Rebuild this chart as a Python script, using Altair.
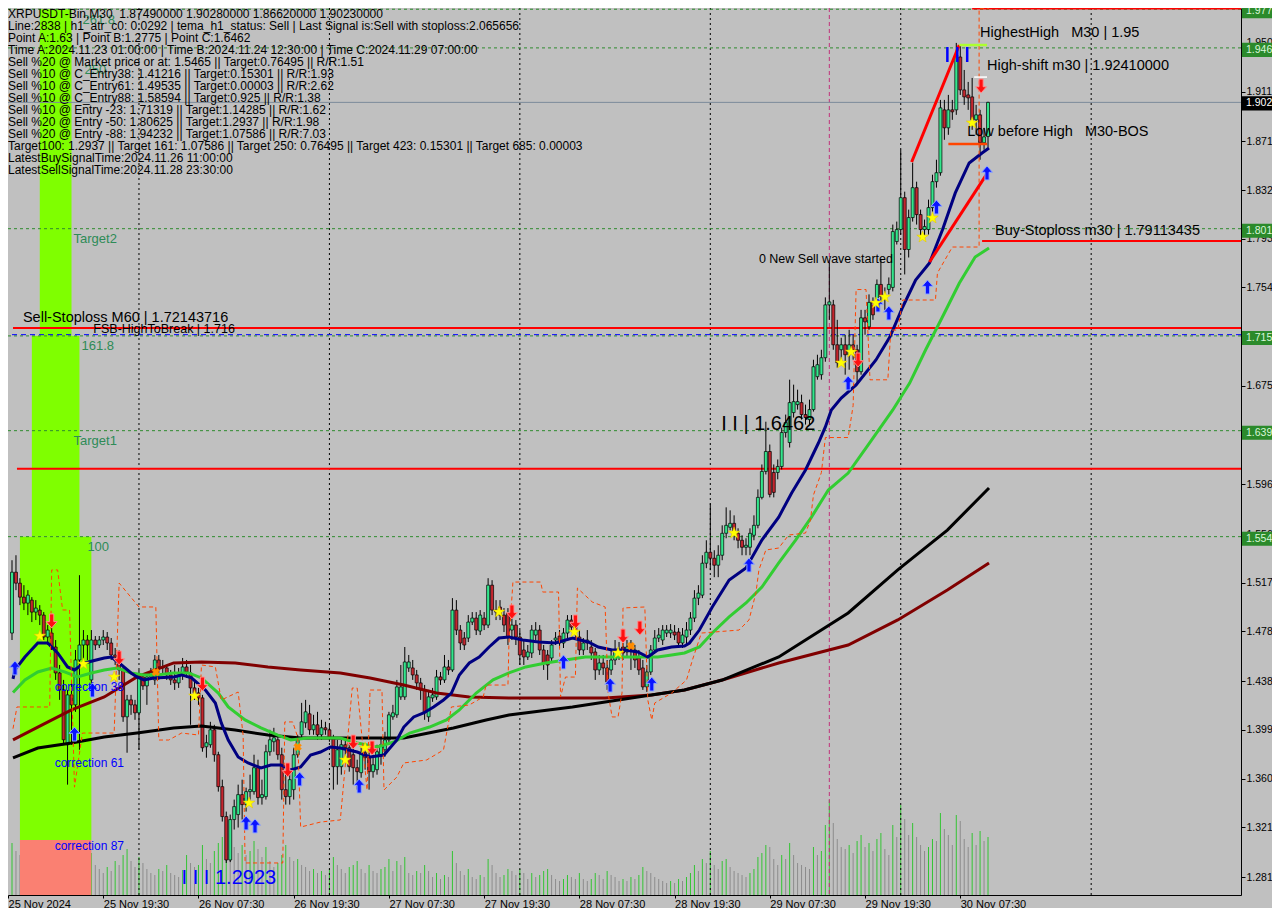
import altair as alt
import pandas as pd

FONT = "Liberation Sans"
W, H = 1233, 887

# ---------------- candles (30-minute bars, first bar 25 Nov 07:30) ----------------
OPEN = [
    1.4631, 1.4767, 1.5255, 1.5167, 1.5055, 1.5007, 1.5031, 1.4935, 1.4951, 1.4911, 1.4735, 1.4767, 1.4655, 1.4447,
    1.4311, 1.3871, 1.4271, 1.4191, 1.4551, 1.4671, 1.4711, 1.4391, 1.4711, 1.4671, 1.4711, 1.4735, 1.4687, 1.4591,
    1.4575, 1.4471, 1.4095, 1.4231, 1.4191, 1.4127, 1.4415, 1.4343, 1.4415, 1.4391, 1.4551, 1.4495, 1.4487, 1.4431,
    1.4391, 1.4367, 1.4431, 1.4495, 1.4447, 1.4327, 1.4287, 1.4247, 1.3855, 1.3871, 1.3991, 1.3791, 1.3535, 1.3295,
    1.2947, 1.3271, 1.3311, 1.3471, 1.3391, 1.3495, 1.3495, 1.3687, 1.3447, 1.3455, 1.3815, 1.3895, 1.3911, 1.3791,
    1.3511, 1.3455, 1.3511, 1.3791, 1.3951, 1.4047, 1.4119, 1.3991, 1.4031, 1.3951, 1.4007, 1.3991, 1.3927, 1.3695,
    1.3695, 1.3871, 1.3847, 1.3791, 1.3687, 1.3647, 1.3807, 1.3767, 1.3655, 1.3671, 1.3791, 1.3831, 1.3911, 1.4095,
    1.4111, 1.4255, 1.4255, 1.4487, 1.4487, 1.4431, 1.4367, 1.4311, 1.4095, 1.4247, 1.4255, 1.4415, 1.4391, 1.4495,
    1.4471, 1.4951, 1.4791, 1.4727, 1.4727, 1.4855, 1.4887, 1.4783, 1.4887, 1.4831, 1.5151, 1.4951, 1.4975, 1.4911,
    1.4927,
    1.4791, 1.4831, 1.4735, 1.4631, 1.4575, 1.4607, 1.4751, 1.4791, 1.4631, 1.4591, 1.4567, 1.4711, 1.4743, 1.4687,
    1.4767, 1.4871, 1.4815, 1.4735, 1.4631, 1.4687, 1.4655, 1.4615, 1.4471, 1.4527, 1.4487, 1.4471, 1.4551, 1.4631,
    1.4655, 1.4615, 1.4647, 1.4631, 1.4567, 1.4487, 1.4335, 1.4455, 1.4631, 1.4727, 1.4711, 1.4767, 1.4767, 1.4775,
    1.4775, 1.4687,
    1.4735, 1.4791, 1.4887, 1.5047, 1.5071, 1.5327, 1.5415, 1.5367, 1.5311, 1.5391, 1.5567, 1.5615, 1.5647, 1.5567,
    1.5511, 1.5455, 1.5455, 1.5551, 1.5631, 1.5855, 1.6063, 1.6223, 1.6055, 1.6055, 1.6103, 1.6375, 1.6295, 1.6535,
    1.6599, 1.6615, 1.6519, 1.6479, 1.6559, 1.6823, 1.6839, 1.6975, 1.7399, 1.7399, 1.7079, 1.7039, 1.7079,
    1.6999, 1.7079, 1.7039, 1.6863, 1.7295, 1.7223, 1.7419, 1.7419, 1.7563, 1.7467, 1.7523, 1.7539, 1.7907, 1.8003,
    1.8259, 1.7843, 1.8099, 1.8339, 1.8123, 1.8003, 1.8003, 1.8179, 1.8387, 1.8459, 1.8963, 1.8819, 1.8963, 1.8963,
    1.9387, 1.9123, 1.9083, 1.9067, 1.8883, 1.8923, 1.8699, 1.8749,
]
HIGH = [
    1.5031, 1.5351, 1.5391, 1.5207, 1.5151, 1.5111, 1.5055, 1.5031, 1.4991, 1.4935, 1.4831, 1.4807, 1.4711, 1.4511,
    1.4391, 1.4311, 1.4391, 1.4631, 1.5231, 1.4791, 1.4751, 1.4791, 1.4743, 1.4743, 1.4791, 1.4775, 1.4727, 1.4647,
    1.4631, 1.4511, 1.4271, 1.4271, 1.4231, 1.4471, 1.4431, 1.4455, 1.4487, 1.4591, 1.4591, 1.4551, 1.4511, 1.4471,
    1.4511, 1.4487, 1.4567, 1.4551, 1.4511, 1.4391, 1.4327, 1.4271, 1.3951, 1.4055, 1.4031, 1.3815, 1.3591, 1.3335,
    1.3311, 1.3431, 1.3551, 1.3591, 1.3527, 1.3631, 1.3791, 1.3751, 1.3591, 1.3871, 1.3991, 1.4007, 1.3951, 1.3847,
    1.3687, 1.3671, 1.3847, 1.3951, 1.4207, 1.4231, 1.4191, 1.4111, 1.4135, 1.4071, 1.4055, 1.4031, 1.3951, 1.3911,
    1.3911, 1.3927, 1.3895, 1.3871, 1.3751, 1.3847, 1.3871, 1.3831, 1.3791, 1.3871, 1.3927, 1.3975, 1.4135, 1.4191,
    1.4391, 1.4511, 1.4655, 1.4591, 1.4551, 1.4471, 1.4407, 1.4351, 1.4311, 1.4327, 1.4471, 1.4455, 1.4591, 1.4551,
    1.5047, 1.5031, 1.4831, 1.4775, 1.4911, 1.4935, 1.4935, 1.4951, 1.4935, 1.5207, 1.5191, 1.5031, 1.5031, 1.4967,
    1.4967,
    1.4911, 1.4871, 1.4791, 1.4711, 1.4671, 1.4831, 1.4855, 1.4831, 1.4671, 1.4631, 1.4711, 1.4775, 1.4791, 1.4807,
    1.4911, 1.4911, 1.4871, 1.4791, 1.4727, 1.4791, 1.4711, 1.4647, 1.4591, 1.4591, 1.4551, 1.4631, 1.4711, 1.4695,
    1.4711, 1.4711, 1.4711, 1.4671, 1.4631, 1.4551, 1.4511, 1.4671, 1.4791, 1.4807, 1.4831, 1.4831, 1.4839, 1.4831,
    1.4807, 1.4807,
    1.4855, 1.4935, 1.5111, 1.5151, 1.5391, 1.5511, 1.5807, 1.5431, 1.5471, 1.5631, 1.5775, 1.5751, 1.5711, 1.5607,
    1.5551, 1.5527, 1.5607, 1.5711, 1.5919, 1.6119, 1.6462, 1.6279, 1.6119, 1.6159, 1.6415, 1.6519, 1.6799, 1.6759,
    1.6719, 1.6679, 1.6599, 1.6639, 1.6959, 1.6999, 1.7039, 1.7459, 1.7739, 1.7439, 1.7279, 1.7135, 1.7159,
    1.7199, 1.7159, 1.7079, 1.7359, 1.7359, 1.7483, 1.7459, 1.7603, 1.7763, 1.7539, 1.7619, 1.8043, 1.8067, 1.8643,
    1.8307, 1.8163, 1.8539, 1.8387, 1.8163, 1.8083, 1.8243, 1.8443, 1.8563, 1.9043, 1.9043, 1.9083, 1.9043, 1.9500,
    1.9483, 1.9283, 1.9187, 1.9219, 1.9003, 1.8963, 1.8819, 1.9028,
]
LOW = [
    1.4591, 1.4711, 1.5111, 1.4991, 1.4951, 1.4911, 1.4855, 1.4871, 1.4831, 1.4711, 1.4671, 1.4631, 1.4391, 1.4231,
    1.3871, 1.3551, 1.3871, 1.4135, 1.3831, 1.4511, 1.4551, 1.4351, 1.4631, 1.4647, 1.4671, 1.4631, 1.4551, 1.4511,
    1.4391, 1.4055, 1.3807, 1.4111, 1.4071, 1.3831, 1.4311, 1.4191, 1.4391, 1.4351, 1.4391, 1.4431, 1.4391, 1.4351,
    1.4311, 1.4327, 1.4391, 1.4407, 1.4031, 1.4231, 1.4191, 1.3815, 1.3767, 1.3847, 1.3735, 1.3495, 1.3255, 1.2923,
    1.2930, 1.3191, 1.3207, 1.3271, 1.3335, 1.3431, 1.3471, 1.3391, 1.3391, 1.3431, 1.3783, 1.3815, 1.3751, 1.3431,
    1.3391, 1.3391, 1.3431, 1.3767, 1.3927, 1.4007, 1.3951, 1.3951, 1.3911, 1.3911, 1.3951, 1.3895, 1.3511, 1.3551,
    1.3631, 1.3751, 1.3655, 1.3551, 1.3511, 1.3607, 1.3671, 1.3511, 1.3607, 1.3631, 1.3711, 1.3775, 1.3871, 1.4071,
    1.4087, 1.4231, 1.4231, 1.4455, 1.4391, 1.4311, 1.4231, 1.4071, 1.4055, 1.4215, 1.4231, 1.4351, 1.4367, 1.4431,
    1.4455, 1.4751, 1.4631, 1.4631, 1.4695, 1.4831, 1.4751, 1.4751, 1.4791, 1.4807, 1.4911, 1.4871, 1.4871, 1.4775,
    1.4671,
    1.4711, 1.4671, 1.4511, 1.4511, 1.4551, 1.4567, 1.4711, 1.4591, 1.4471, 1.4391, 1.4535, 1.4671, 1.4647, 1.4647,
    1.4727, 1.4775, 1.4711, 1.4591, 1.4591, 1.4631, 1.4551, 1.4391, 1.4431, 1.4431, 1.4311, 1.4431, 1.4511, 1.4551,
    1.4551, 1.4567, 1.4471, 1.4487, 1.4431, 1.4311, 1.4295, 1.4431, 1.4615, 1.4695, 1.4671, 1.4735, 1.4727, 1.4711,
    1.4647, 1.4647,
    1.4671, 1.4751, 1.4855, 1.4991, 1.5047, 1.5287, 1.5271, 1.5215, 1.5215, 1.5351, 1.5527, 1.5591, 1.5511, 1.5447,
    1.5391, 1.5391, 1.5391, 1.5511, 1.5607, 1.5839, 1.6039, 1.5855, 1.5855, 1.6000, 1.6079, 1.6335, 1.6255, 1.6495,
    1.6559, 1.6479, 1.6439, 1.6439, 1.6543, 1.6799, 1.6799, 1.6943, 1.7279, 1.7039, 1.6895, 1.6919, 1.6839,
    1.6879, 1.6959, 1.6759, 1.6839, 1.7159, 1.7199, 1.7279, 1.7359, 1.7427, 1.7359, 1.7483, 1.7507, 1.7883, 1.7963,
    1.7643, 1.7779, 1.8067, 1.8043, 1.7923, 1.7923, 1.7963, 1.8147, 1.8339, 1.8435, 1.8723, 1.8763, 1.8883, 1.8923,
    1.9083, 1.9003, 1.8963, 1.8803, 1.8763, 1.8563, 1.8643, 1.8662,
]
CLOSE = [
    1.4767, 1.5255, 1.5167, 1.5055, 1.5007, 1.5071, 1.4935, 1.4967, 1.4911, 1.4735, 1.4791, 1.4655, 1.4447, 1.4311,
    1.3911, 1.4271, 1.4191, 1.4551, 1.4671, 1.4711, 1.4671, 1.4711, 1.4671, 1.4711, 1.4735, 1.4687, 1.4591, 1.4575,
    1.4471, 1.4095, 1.4231, 1.4191, 1.4127, 1.4415, 1.4343, 1.4415, 1.4455, 1.4551, 1.4495, 1.4487, 1.4431, 1.4391,
    1.4367, 1.4431, 1.4495, 1.4455, 1.4327, 1.4287, 1.4247, 1.3847, 1.3887, 1.3991, 1.3791, 1.3535, 1.3295, 1.2947,
    1.3271, 1.3375, 1.3471, 1.3391, 1.3495, 1.3511, 1.3687, 1.3447, 1.3471, 1.3815, 1.3911, 1.3927, 1.3791, 1.3511,
    1.3455, 1.3591, 1.3791, 1.3911, 1.4055, 1.4135, 1.3991, 1.4031, 1.3951, 1.4007, 1.3991, 1.3927, 1.3695, 1.3831,
    1.3871, 1.3847, 1.3695, 1.3687, 1.3655, 1.3807, 1.3767, 1.3655, 1.3711, 1.3815, 1.3871, 1.3911, 1.4111, 1.4127,
    1.4335, 1.4335, 1.4535, 1.4535, 1.4431, 1.4367, 1.4311, 1.4127, 1.4255, 1.4271, 1.4415, 1.4391, 1.4495, 1.4471,
    1.4951, 1.4791, 1.4687, 1.4671, 1.4855, 1.4887, 1.4791, 1.4911, 1.4831, 1.5151, 1.4951, 1.4935, 1.4911, 1.4831,
    1.4735,
    1.4831, 1.4735, 1.4591, 1.4575, 1.4615, 1.4791, 1.4791, 1.4631, 1.4527, 1.4511, 1.4671, 1.4727, 1.4687, 1.4767,
    1.4871, 1.4815, 1.4775, 1.4631, 1.4687, 1.4711, 1.4607, 1.4471, 1.4527, 1.4487, 1.4375, 1.4551, 1.4631, 1.4615,
    1.4607, 1.4655, 1.4631, 1.4551, 1.4471, 1.4335, 1.4455, 1.4631, 1.4727, 1.4751, 1.4791, 1.4791, 1.4791, 1.4751,
    1.4687, 1.4751,
    1.4791, 1.4887, 1.5047, 1.5087, 1.5327, 1.5415, 1.5367, 1.5311, 1.5391, 1.5567, 1.5631, 1.5647, 1.5567, 1.5511,
    1.5455, 1.5471, 1.5567, 1.5631, 1.5855, 1.6063, 1.6223, 1.5879, 1.5895, 1.6103, 1.6375, 1.6455, 1.6615, 1.6623,
    1.6623, 1.6519, 1.6495, 1.6559, 1.6903, 1.6919, 1.6975, 1.7399, 1.7423, 1.7079, 1.6935, 1.7079, 1.6999,
    1.7079, 1.7039, 1.6863, 1.7295, 1.7263, 1.7419, 1.7319, 1.7563, 1.7467, 1.7443, 1.7563, 1.7987, 1.8003, 1.8259,
    1.7843, 1.8099, 1.8339, 1.8123, 1.8003, 1.8027, 1.8179, 1.8387, 1.8459, 1.8979, 1.8819, 1.8963, 1.8947, 1.9403,
    1.9123, 1.9067, 1.9059, 1.8883, 1.8923, 1.8699, 1.8747, 1.9023,
]
VOLUME = [
    48, 52, 44, 40, 36, 30, 34, 38, 42, 50, 46, 55, 60, 52, 66, 58, 50, 48, 105, 45, 38, 42,
    30, 26, 22, 28, 24, 34, 30, 40, 46, 34, 28, 38, 32, 26, 22, 20, 26, 24, 30, 22, 20, 18, 25, 40, 32, 28, 30, 50,
    36, 32, 44, 52, 58, 70, 62, 48, 42, 50, 40, 44, 54, 46, 38, 48, 34, 28, 32, 40, 50, 38, 34, 36, 30, 28, 24, 26,
    22, 24, 20, 26, 38, 30,
    26, 22, 28, 30, 34, 26, 22, 30, 24, 22, 26, 28, 36, 24, 34, 30, 38, 22, 20, 24, 22, 30, 24, 18, 22, 16, 20, 18,
    44, 32, 24, 20, 26, 18, 16, 20, 18, 36, 30, 22, 18, 20, 26,
    24, 20, 26, 22, 16, 22, 18, 20, 24, 26, 20, 16, 14, 16, 20, 18, 16, 22, 16, 14, 16, 22, 20, 16, 24, 20, 18, 14,
    16, 14, 18, 16, 20, 28, 24, 22, 18, 16, 14, 12, 14, 12, 16, 14,
    18, 22, 30, 24, 36, 32, 44, 30, 26, 34, 36, 28, 24, 22, 20, 18, 22, 26, 38, 42, 50, 48, 36, 30, 40, 36, 52, 40,
    32, 30, 28, 26, 48, 40, 44, 70, 95, 72, 56, 48, 46,
    50, 42, 54, 60, 48, 52, 44, 56, 62, 46, 40, 70, 58, 90, 76, 60, 72, 58, 50, 44, 48, 56, 54, 82, 66, 60, 50, 80,
    74, 56, 48, 62, 50, 64, 54, 58,
]

TIME_TICKS = [0, 24, 48, 72, 96, 120, 144, 168, 192, 216, 240]
TIME_LABELS = ["25 Nov 2024", "25 Nov 19:30", "26 Nov 07:30", "26 Nov 19:30", "27 Nov 07:30", "27 Nov 19:30",
               "28 Nov 07:30", "28 Nov 19:30", "29 Nov 07:30", "29 Nov 19:30", "30 Nov 07:30"]
MIDNIGHTS = [33, 81, 129, 177, 225, 273]
PRICE_TICKS = [1.281, 1.321, 1.360, 1.399, 1.438, 1.478, 1.517, 1.556, 1.596, 1.635, 1.675, 1.714, 1.754,
               1.793, 1.832, 1.871, 1.911, 1.950]

# ---------------- indicator lines ----------------
NAVY_BAR = [1.25, 1.75, 4.25, 7.5, 10, 12.5, 15, 16.75, 19.25, 24.25, 26, 28, 31, 32.5, 34.25, 36.75, 41.75, 43.75,
            46.25, 49.75, 52.25, 53.75, 55.5, 58, 60.5, 63.75, 66.25, 68.75, 71.25, 73.75, 76.25, 78.75, 81.25,
            83.75, 88, 91.25, 94.75, 98, 99.75, 102.25, 104.75, 107.25, 109.75, 111.75, 113.75, 116.25, 118.75,
            121.25, 123.75, 126.25, 129.75, 133.75, 138, 142.25, 146.25, 148.75, 152.25, 155.5, 158.75, 161.25,
            163.75, 167.25, 170.5, 171.75, 174.25, 177.5, 181.75, 186, 190, 194.25, 197.5, 201, 204.25, 206, 207.5,
            210, 213.75, 218.75, 222.25, 225.5, 228.75, 232.25, 235.5, 238.75, 242.25, 245.5, 247.25]
NAVY_PRICE = [1.4400, 1.4471, 1.4575, 1.4687, 1.4687, 1.4607, 1.4495, 1.4471, 1.4527, 1.4567, 1.4575, 1.4527,
              1.4447, 1.4415, 1.4391, 1.4407, 1.4415, 1.4431, 1.4407, 1.4310, 1.4206, 1.4046, 1.3909, 1.3773,
              1.3725, 1.3685, 1.3709, 1.3709, 1.3669, 1.3693, 1.3789, 1.3813, 1.3853, 1.3845, 1.3813, 1.3773,
              1.3789, 1.3909, 1.4013, 1.4094, 1.4126, 1.4174, 1.4230, 1.4286, 1.4431, 1.4527, 1.4575, 1.4655,
              1.4727, 1.4735, 1.4711, 1.4695, 1.4687, 1.4727, 1.4695, 1.4655, 1.4631, 1.4631, 1.4615, 1.4575,
              1.4631, 1.4655, 1.4663, 1.4687, 1.4791, 1.4976, 1.5192, 1.5289, 1.5513, 1.5697, 1.5890, 1.6075,
              1.6291, 1.6420, 1.6556, 1.6652, 1.6757, 1.6957, 1.7141, 1.7382, 1.7598, 1.7735, 1.7999, 1.8297,
              1.8537, 1.8617, 1.8657]
GREEN_BAR = [1.25, 4.25, 7.5, 11, 14.25, 17.5, 21, 24.25, 27.5, 31, 34.25, 37.5, 41.75, 45.5, 48.75, 53, 55.5,
             59.75, 63.75, 68, 71.25, 75.5, 79.75, 83.75, 88, 93, 97.25, 101.25, 106.25, 110.5, 113.75, 118,
             122.25, 126.25, 130.5, 135.5, 140.5, 145.5, 150.5, 155.5, 160.5, 163.75, 167.25, 170.5, 174.25, 177.5,
             181.75, 186, 190, 194.25, 198.5, 202.5, 206.75, 211.75, 216.75, 223, 227.25, 231.25, 235.5, 239.75,
             243.75, 247.25]
GREEN_PRICE = [1.4290, 1.4390, 1.4455, 1.4487, 1.4455, 1.4415, 1.4447, 1.4471, 1.4487, 1.4447, 1.4431, 1.4431,
               1.4447, 1.4447, 1.4407, 1.4286, 1.4174, 1.4070, 1.4006, 1.3949, 1.3909, 1.3925, 1.3925, 1.3925,
               1.3885, 1.3853, 1.3893, 1.3965, 1.4013, 1.4070, 1.4150, 1.4286, 1.4391, 1.4447, 1.4495, 1.4527,
               1.4551, 1.4575, 1.4575, 1.4575, 1.4575, 1.4575, 1.4591, 1.4607, 1.4655, 1.4767, 1.4896, 1.5008,
               1.5136, 1.5329, 1.5513, 1.5697, 1.5914, 1.6050, 1.6275, 1.6556, 1.6772, 1.7037, 1.7302, 1.7572,
               1.7783, 1.7855]
MAROON_BAR = [1.25, 7.5, 16, 24.25, 32.5, 41.75, 48.75, 57.25, 65.5, 73.75, 83.75, 91.25, 99.75, 108, 116.25,
              126.25, 150.5, 162.25, 170.5, 180, 194.25, 211.75, 224.25, 236.75, 247.25]
MAROON_PRICE = [1.3910, 1.4013, 1.4150, 1.4254, 1.4415, 1.4527, 1.4535, 1.4527, 1.4495, 1.4471, 1.4447, 1.4406,
                1.4350, 1.4286, 1.4254, 1.4246, 1.4246, 1.4270, 1.4310, 1.4390, 1.4527, 1.4671, 1.4872, 1.5112,
                1.5329]
BLACK_BAR = [1.25, 7.5, 16, 24.25, 32.5, 41.75, 48.75, 57.25, 65.5, 73.75, 83.75, 99.75, 112.25, 120.5, 126.25,
             142.25, 158.75, 170.5, 180, 194.25, 211.75, 224.25, 236.75, 247.25]
BLACK_PRICE = [1.3765, 1.3845, 1.3885, 1.3933, 1.3965, 1.4005, 1.4021, 1.3989, 1.3949, 1.3925, 1.3925, 1.3925,
               1.4005, 1.4070, 1.4110, 1.4174, 1.4254, 1.4310, 1.4390, 1.4575, 1.4928, 1.5273, 1.5593, 1.5930]
STOP_BAR = [1.25, 2.25, 10.5, 11, 12.5, 13.75, 15.5, 16.75, 18.75, 26.75, 28, 33, 37.25, 38, 40.5, 43.75, 48, 48.75,
            52.25, 53.75, 58, 59.25, 59.75, 69.25, 69.75, 71.75, 73, 73.75, 78.75, 83.75, 86.75, 88, 90.5, 91.25,
            94.25, 94.75, 98, 99.75, 105.5, 109.75, 111.75, 116.25, 119.75, 120.5, 126, 126.25, 127.25, 134.25,
            134.75, 138.75, 139.25, 140.5, 143, 143.5, 147.25, 150.5, 151.25, 152.25, 153.75, 154.75, 155, 160.5,
            161.25, 162.25, 163, 167.25, 171, 172.5, 174.75, 184.25, 186.75, 188.5, 189.25, 191, 194.25, 196.75,
            201, 202.25, 203, 205, 206, 211.75, 213, 213.75, 216.25, 217.25, 221.75, 222.5, 224.25, 225.5, 233.75,
            234.25, 238, 244.75, 244.75, 247.25]
STOP_PRICE = [1.4000, 1.4174, 1.4174, 1.5273, 1.5273, 1.4952, 1.4952, 1.3531, 1.3965, 1.3965, 1.5168, 1.4976,
              1.4976, 1.3909, 1.3909, 1.3965, 1.3949, 1.4511, 1.4495, 1.4230, 1.4294, 1.3949, 1.2923, 1.2923,
              1.4054, 1.4054, 1.3933, 1.3211, 1.3251, 1.3268, 1.4326, 1.4326, 1.3508, 1.4310, 1.4310, 1.3508,
              1.3612, 1.3725, 1.3749, 1.3829, 1.4174, 1.4190, 1.4254, 1.4350, 1.4350, 1.4687, 1.5176, 1.5176,
              1.5096, 1.5096, 1.4254, 1.4414, 1.4414, 1.5128, 1.5016, 1.4976, 1.4286, 1.4094, 1.4094, 1.4286,
              1.4968, 1.4976, 1.4230, 1.4070, 1.4206, 1.4286, 1.4390, 1.4551, 1.4767, 1.4791, 1.4872, 1.5088,
              1.5273, 1.5433, 1.5449, 1.5553, 1.5569, 1.5674, 1.5874, 1.6054, 1.6335, 1.6335, 1.6592, 1.7522,
              1.7522, 1.6798, 1.6798, 1.7197, 1.7197, 1.7438, 1.7438, 1.7655, 1.7863, 1.7863, 1.9775, 1.9775]

# ---------------- signals ----------------
BUY_BAR = [1.75, 16.75, 21.25, 60, 62.25, 73.5, 88.5, 140, 151.75, 162.25, 186.75, 211.75, 219.25, 222, 231.75,
           234, 246.75]
BUY_PRICE = [1.4487, 1.3957, 1.4310, 1.3244, 1.3220, 1.3597, 1.3540, 1.4535, 1.4350, 1.4358, 1.5313, 1.6773,
             1.7398, 1.7334, 1.7542, 1.8184, 1.8457]
SELL_BAR = [11, 28, 49, 70.5, 87, 91.75, 127, 143, 155, 159.25, 214.25, 245.25]
SELL_PRICE = [1.4864, 1.4567, 1.4358, 1.3669, 1.3893, 1.3845, 1.4936, 1.4856, 1.4743, 1.4807, 1.6957, 1.9154]
STAR_BAR = [8, 19, 26.75, 47, 60.75, 85, 90, 123.75, 142.75, 153.75, 183, 210, 212.5, 218.75, 221, 230.5, 233, 243]
STAR_PRICE = [1.4743, 1.4519, 1.4415, 1.4262, 1.3404, 1.3749, 1.3845, 1.4936, 1.4775, 1.4607, 1.5569, 1.6933,
              1.7021, 1.7414, 1.7462, 1.7943, 1.8096, 1.8858]
CROSS_BAR = [37.25, 73, 157]
CROSS_PRICE = [1.4454, 1.3853, 1.4663]

# ---------------- levels & zones ----------------
FIB_LEVELS = [1.977, 1.946, 1.801, 1.715, 1.639, 1.554]
FSB_LEVEL = 1.716
LAST_PRICE = 1.9023
RED_LEVEL_PRICE = [1.72143716, 1.6085, 1.79113435, 1.9775]
RED_LEVEL_FROM = [1.25, 2.25, 245.5, 243]
ZONE_FROM = [8, 6, 3]
ZONE_TO = [16, 18, 21]
ZONE_TOP = [1.977, 1.715, 1.554]
ZONE_BOTTOM = [1.715, 1.554, 1.3107]
STOPZONE = (3, 21, 1.3107, 1.2666)

INFO_LINES = [
    "XRPUSDT-Bin,M30\u00a0\u00a01.87490000 1.90280000 1.86620000 1.90230000",
    "Line:2838 | h1_atr_c0: 0.0292 | tema_h1_status: Sell | Last Signal is:Sell with stoploss:2.065656",
    "Point A:1.63 | Point B:1.2775 | Point C:1.6462",
    "Time A:2024.11.23 01:00:00 | Time B:2024.11.24 12:30:00 | Time C:2024.11.29 07:00:00",
    "Sell %20 @ Market price or at: 1.5465 || Target:0.76495 || R/R:1.51",
    "Sell %10 @ C_Entry38: 1.41216 || Target:0.15301 || R/R:1.93",
    "Sell %10 @ C_Entry61: 1.49535 || Target:0.00003 || R/R:2.62",
    "Sell %10 @ C_Entry88: 1.58594 || Target:0.925 || R/R:1.38",
    "Sell %10 @ Entry -23: 1.71319 || Target:1.14285 || R/R:1.62",
    "Sell %20 @ Entry -50: 1.80625 || Target:1.2937 || R/R:1.98",
    "Sell %20 @ Entry -88: 1.94232 || Target:1.07586 || R/R:7.03",
    "Target100: 1.2937 || Target 161: 1.07586 || Target 250: 0.76495 || Target 423: 0.15301 || Target 685: 0.00003",
    "LatestBuySignalTime:2024.11.26 11:00:00",
    "LatestSellSignalTime:2024.11.28 23:30:00",
]
NBSP = "\u00a0"
BIG_NOTES = [("Sell-Stoploss M60 | 1.72143716", 3.75, 1.7294),
             ("HighestHigh" + NBSP * 3 + "M30 | 1.95", 245, 1.9579),
             ("High-shift m30 | 1.92410000", 246.75, 1.9315),
             ("Low before High" + NBSP * 3 + "M30-BOS", 241.75, 1.8785),
             ("Buy-Stoploss m30 | 1.79113435", 248.75, 1.7991)]
SMALL_NOTES = [("0 New Sell wave started", 189.25, 1.7767), ("FSB-HighToBreak | 1.716", 21.5, 1.7205)]
POINT_C_NOTE = [("I I | 1.6462", 179.75, 1.6444)]
POINT_LOW_NOTE = [("I I I 1.2923", 43.75, 1.2804)]
CORRECTION_NOTES = [("correction 38", 11.75, 1.4336), ("correction 61", 11.75, 1.3721),
                    ("correction 87", 11.75, 1.3055)]
FIB_NOTES = [("261.8", 18.75, 1.9684), ("250", 19.25, 1.9283), ("Target2", 16.5, 1.7927), ("161.8", 18.5, 1.7069),
             ("Target1", 16.5, 1.6307), ("100", 20, 1.5457)]

# ---------------- scales / axes ----------------
xs = alt.Scale(domain=[1.25, 1.25 + W / 4], nice=False, zero=False)
ys = alt.Scale(domain=[1.2666, 1.9780], nice=False, zero=False)
label_expr = "[" + ",".join("'%s'" % t for t in TIME_LABELS) + "][round(datum.value / 24)]"
x_axis = alt.Axis(orient="bottom", values=TIME_TICKS, labelExpr=label_expr, title=None, grid=False,
                  tickSize=3, tickColor="black", domainColor="black", labelColor="black", labelFont=FONT,
                  labelFontSize=11, labelAlign="left", labelBaseline="top", labelPadding=0, labelFlush=False,
                  labelOverlap=False)
y_axis = alt.Axis(orient="right", values=PRICE_TICKS, format=".3f", title=None, grid=False, tickSize=4,
                  tickColor="black", domainColor="black", labelColor="black", labelFont=FONT, labelFontSize=10.5,
                  labelAlign="left", labelPadding=1, labelFlush=False, labelOverlap=False)


def X(f):
    return alt.X(f, type="quantitative", scale=xs, axis=x_axis)


def Y(f):
    return alt.Y(f, type="quantitative", scale=ys, axis=y_axis)


n = len(CLOSE)
bars = pd.DataFrame({"i": list(range(n)), "open": OPEN, "high": HIGH, "low": LOW, "close": CLOSE, "vol": VOLUME})
bars["dir"] = ["up" if c >= o else "down" for o, c in zip(OPEN, CLOSE)]
bars["vdir"] = ["up" if k == 0 or VOLUME[k] >= VOLUME[k - 1] else "down" for k in range(n)]
base = alt.Chart(bars).transform_filter(alt.datum.i >= 1)

vol_scale = alt.Scale(domain=[0, H], nice=False, zero=True)
vol_layers = [
    base.transform_filter(alt.datum.vdir == d).mark_rule(strokeWidth=1, color=c).encode(
        x=X("i"), y=alt.Y("vol:Q", scale=vol_scale, axis=None), y2=alt.value(H))
    for d, c in [("up", "#33c433"), ("down", "#8c8c8c")]
]


def line(bx, py, color, width=3, dash=None):
    df = pd.DataFrame({"i": bx, "p": py, "k": list(range(len(bx)))})
    kw = dict(color=color, strokeWidth=width)
    if dash:
        kw["strokeDash"] = dash
    return alt.Chart(df).mark_line(**kw).encode(x=X("i"), y=Y("p"), order="k:Q")


def segs(x1, p1, x2, p2, color, width):
    df = pd.DataFrame({"i": x1, "p": p1, "i2": x2, "p2": p2})
    return alt.Chart(df).mark_rule(color=color, strokeWidth=width).encode(
        x=X("i"), y=Y("p"), x2="i2:Q", y2="p2:Q")


def marks(bx, py, shape, size, fill, stroke, sw=1.0, angle=0):
    df = pd.DataFrame({"i": bx, "p": py})
    return alt.Chart(df).mark_point(shape=shape, size=size, filled=True, fill=fill, stroke=stroke,
                                    strokeWidth=sw, opacity=1, angle=angle).encode(x=X("i"), y=Y("p"))


def notes(rows, size, color, align="left"):
    df = pd.DataFrame(rows, columns=["t", "i", "p"])
    return alt.Chart(df).mark_text(align=align, baseline="middle", font=FONT, fontSize=size, color=color).encode(
        x=X("i"), y=Y("p"), text="t:N")


zones = pd.DataFrame({"i1": ZONE_FROM, "i2": ZONE_TO, "p1": ZONE_TOP, "p2": ZONE_BOTTOM})
zone_layer = alt.Chart(zones).mark_rect(color="#7fff00").encode(x=X("i1"), x2="i2:Q", y=Y("p1"), y2="p2:Q")
stop_df = pd.DataFrame({"i1": [STOPZONE[0]], "i2": [STOPZONE[1]], "p1": [STOPZONE[2]], "p2": [STOPZONE[3]]})
stop_layer = alt.Chart(stop_df).mark_rect(color="#fa8072").encode(x=X("i1"), x2="i2:Q", y=Y("p1"), y2="p2:Q")

grid = alt.Chart(pd.DataFrame({"i": MIDNIGHTS})).mark_rule(color="black", strokeDash=[2, 3], strokeWidth=1).encode(
    x=X("i"))
time_c = alt.Chart(pd.DataFrame({"i": [207]})).mark_rule(color="#c0307a", strokeDash=[4, 3], strokeWidth=1).encode(
    x=X("i"))
fib = alt.Chart(pd.DataFrame({"p": FIB_LEVELS})).mark_rule(color="#2e8b2e", strokeDash=[3, 3], strokeWidth=1).encode(
    y=Y("p"))
fsb = alt.Chart(pd.DataFrame({"p": [FSB_LEVEL]})).mark_rule(color="#0000ff", strokeDash=[5, 4], strokeWidth=1).encode(
    y=Y("p"))
last = alt.Chart(pd.DataFrame({"p": [LAST_PRICE]})).mark_rule(color="#7b8a9a", strokeWidth=1).encode(y=Y("p"))
red_lv = alt.Chart(pd.DataFrame({"p": RED_LEVEL_PRICE, "i": RED_LEVEL_FROM})).mark_rule(
    color="#ff0000", strokeWidth=2).encode(y=Y("p"), x=X("i"), x2=alt.value(W))

wicks = base.mark_rule(color="black", strokeWidth=1).encode(x=X("i"), y=Y("low"), y2="high:Q")
bodies = [
    base.transform_filter(alt.datum.dir == d).mark_bar(size=3, fill=c, stroke="black", strokeWidth=0.7).encode(
        x=X("i"), y=Y("open"), y2="close:Q")
    for d, c in [("up", "#33e68c"), ("down", "#c4262e")]
]

UP_PATH = "M0,-1L0.78,-0.1L0.3,-0.1L0.3,1L-0.3,1L-0.3,-0.1L-0.78,-0.1Z"
DOWN_PATH = "M0,1L0.78,0.1L0.3,0.1L0.3,-1L-0.3,-1L-0.3,0.1L-0.78,0.1Z"
STAR_PATH = ("M0,-1L0.235,-0.324L0.951,-0.309L0.38,0.124L0.588,0.809L0,0.4L-0.588,0.809L-0.38,0.124"
             "L-0.951,-0.309L-0.235,-0.324Z")
BOX_PATH = "M-1,-0.37L1,-0.37L1,0.37L-1,0.37Z"

layers = [stop_layer, zone_layer, grid, time_c, fib, fsb, last, red_lv, wicks] + bodies + [
    line(MAROON_BAR, MAROON_PRICE, "#800000"),
    line(BLACK_BAR, BLACK_PRICE, "#000000"),
    line(GREEN_BAR, GREEN_PRICE, "#32cd32"),
    line(NAVY_BAR, NAVY_PRICE, "#000080"),
    line(STOP_BAR, STOP_PRICE, "#ff4500", width=1, dash=[4, 3]),
    segs([227.75, 232.25], [1.8545, 1.7743], [239.75, 246.75], [1.9483, 1.8452], "#ff0000", 3),
    segs([237], [1.8689], [246.75], [1.8689], "#ff4500", 2.5),
    segs([239.75], [1.9483], [246.75], [1.9483], "#adff2f", 2.5),
    segs([243.5], [1.9226], [246.75], [1.9226], "#ffffff", 1.5),
    segs([236.75, 239.25, 241.75], [1.9347] * 3, [236.75, 239.25, 241.75], [1.9467] * 3, "#0000ff", 2.5),
    marks(BUY_BAR, BUY_PRICE, UP_PATH, 196, "#0a14ff", "#8fa8ff", 1),
    marks(SELL_BAR, SELL_PRICE, DOWN_PATH, 196, "#ff1010", "#ff9090", 1),
    marks(STAR_BAR, STAR_PRICE, STAR_PATH, 150, "#ffff00", "#e0c000", 0.5),
    marks(CROSS_BAR, CROSS_PRICE, "cross", 60, "#ff8c00", "#ff8c00", 0.5, angle=45),
    notes(FIB_NOTES, 13, "#2e8b57"),
    notes(BIG_NOTES, 14.5, "#000000"),
    notes(SMALL_NOTES, 12.5, "#000000"),
    notes(CORRECTION_NOTES, 12, "#0000ff"),
    notes(POINT_C_NOTE, 20, "#000000"),
    notes(POINT_LOW_NOTE, 20, "#0000ff"),
]

info = alt.Chart(pd.DataFrame({"t": INFO_LINES, "row": list(range(len(INFO_LINES)))})).transform_calculate(
    py="6 + 12 * datum.row").mark_text(align="left", baseline="middle", font=FONT, fontSize=12,
                                       color="black").encode(
    x=alt.value(0), y=alt.Y("py:Q", scale=None), text="t:N")
layers.append(info)

box_df = pd.DataFrame({"p": FIB_LEVELS})
layers.append(alt.Chart(box_df).mark_point(shape=BOX_PATH, size=1444, filled=True, fill="#2b8a2b", strokeWidth=0,
                                           opacity=1, yOffset=2).encode(x=alt.value(W + 20), y=Y("p")))
layers.append(alt.Chart(box_df).mark_text(align="left", baseline="middle", font=FONT, fontSize=10.5,
                                          color="#d9f7d9", dy=2).encode(
    x=alt.value(W + 5), y=Y("p"), text=alt.Text("p:Q", format=".3f")))
last_df = pd.DataFrame({"p": [LAST_PRICE]})
layers.append(alt.Chart(last_df).mark_point(shape=BOX_PATH, size=1444, filled=True, fill="#000000", strokeWidth=0,
                                            opacity=1, yOffset=1).encode(x=alt.value(W + 20), y=Y("p")))
layers.append(alt.Chart(last_df).mark_text(align="left", baseline="middle", font=FONT, fontSize=10.5,
                                           color="#ffffff", dy=1).encode(
    x=alt.value(W + 5), y=Y("p"), text=alt.Text("p:Q", format=".3f")))

price = alt.layer(*layers)
chart = alt.layer(alt.layer(*vol_layers), price).resolve_scale(y="independent").properties(
    width=W, height=H, background="#c0c0c0",
    padding={"left": 0, "top": 0, "right": 31, "bottom": 13},
    autosize=alt.AutoSizeParams(type="none"),
).configure_view(stroke=None)

chart.save("out.html", embed_options={"renderer": "svg", "actions": False})
